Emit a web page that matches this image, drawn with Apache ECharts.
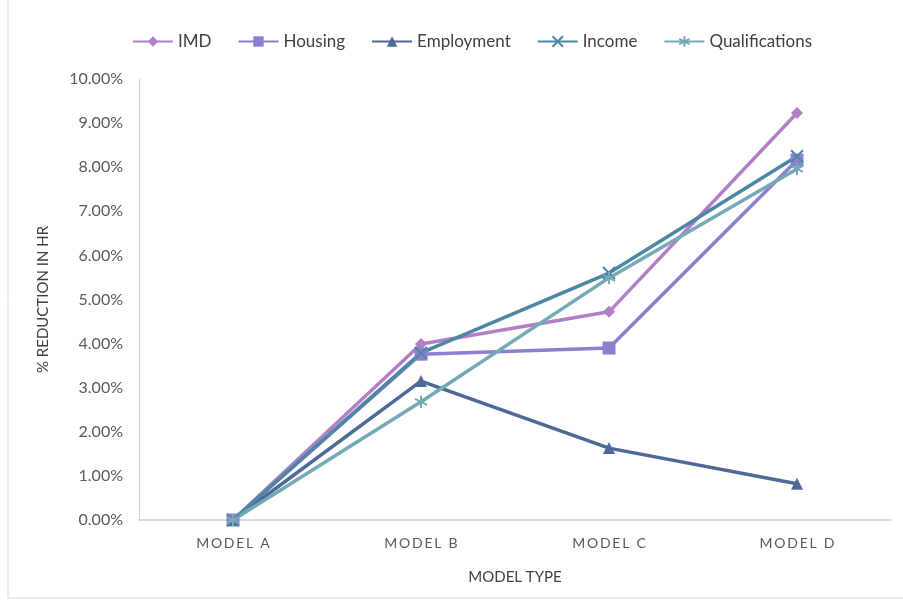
<!DOCTYPE html>
<html><head><meta charset="utf-8">
<script src="https://cdn.jsdelivr.net/npm/echarts@6/dist/echarts.min.js"></script>
<style>html,body{margin:0;padding:0;background:#fff}#c{width:903px;height:601px}</style>
</head><body><div id="c"></div>
<script>
const categories = ['MODEL A','MODEL B','MODEL C','MODEL D'];
const seriesNames = ['IMD','Housing','Employment','Income','Qualifications'];
const imd = [0, 3.99, 4.72, 9.23];
const housing = [0, 3.76, 3.90, 8.16];
const employment = [0, 3.15, 1.63, 0.82];
const income = [0, 3.79, 5.60, 8.25];
const qualifications = [0, 2.68, 5.49, 7.96];
const yTicks = [0,1,2,3,4,5,6,7,8,9,10];

const colors = ['#b27fc6','#8a80cf','#4f6996','#4b87a5','#74a9b6'];
const xPath = 'path://M0,0L10,10M10,0L0,10';
const starPath = 'path://M5,0L5,10M0,2.5L10,7.5M0,7.5L10,2.5';
const symbols = ['diamond','rect','triangle',xPath,starPath];
const sizes = [12,13,12,12,12];
const datas = [imd,housing,employment,income,qualifications];
const font = 'Lato, "Open Sans", sans-serif';

const chart = echarts.init(document.getElementById('c'));
chart.setOption({
  backgroundColor:'#fff',
  animation:false,
  color: colors,
  graphic:[{type:'rect',shape:{x:8,y:-2,width:900,height:600},style:{fill:'none',stroke:'#d9d9d9',lineWidth:1}}],
  legend:{
    top:28, left:127, itemWidth:40, itemHeight:13, itemGap:26,
    textStyle:{fontFamily:font,fontSize:17,color:'#404040'},
    data: seriesNames
  },
  grid:{left:139,right:12,top:79,bottom:81},
  xAxis:{
    type:'category', data:categories, boundaryGap:true,
    name:'MODEL TYPE', nameLocation:'middle', nameGap:50,
    nameTextStyle:{fontFamily:font,fontSize:15,color:'#404040'},
    axisLine:{lineStyle:{color:'#d0d0d0',width:1.5}},
    axisTick:{show:false},
    axisLabel:{fontFamily:font,fontSize:14,color:'#595959',margin:16,
      formatter: v => v.split('').join('\u2009')}
  },
  yAxis:{
    type:'value', min:0, max:10, interval:1,
    name:'% REDUCTION IN HR', nameLocation:'middle', nameGap:88, nameRotate:90,
    nameTextStyle:{fontFamily:font,fontSize:15,color:'#404040'},
    axisLine:{show:true,lineStyle:{color:'#d0d0d0'}},
    axisTick:{show:false},
    splitLine:{show:false},
    axisLabel:{fontFamily:font,fontSize:16,color:'#595959',margin:16,
      formatter: v => yTicks.includes(v) ? v.toFixed(2)+'%' : ''}
  },
  series: seriesNames.map((n,i)=>({
    name:n, type:'line', data:datas[i], symbol:symbols[i], symbolSize:sizes[i],
    showAllSymbol:true,
    lineStyle:{width:3.5,color:colors[i]},
    itemStyle:{color:colors[i],borderColor:colors[i],borderWidth: i>=3?2:0}
  }))
});
</script></body></html>
